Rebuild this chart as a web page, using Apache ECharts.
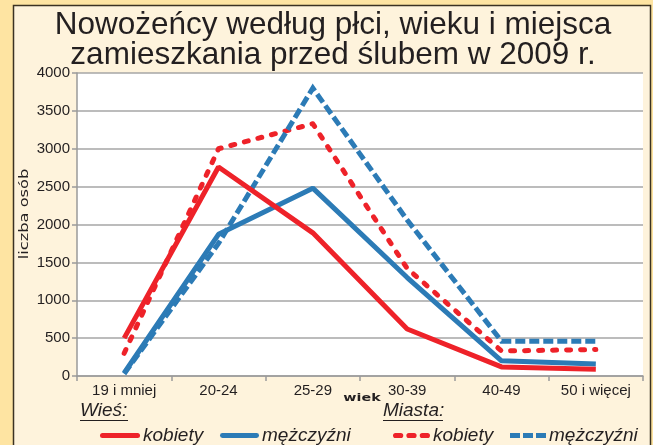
<!DOCTYPE html>
<html><head><meta charset="utf-8">
<script src="https://cdn.jsdelivr.net/npm/echarts@6/dist/echarts.min.js"></script>
<style>html,body{margin:0;padding:0;background:#FEE4A2;}#c{width:653px;height:445px;}</style>
</head><body><div id="c"></div>
<script>
var categories = ['19 i mniej', '20-24', '25-29', '30-39', '40-49', '50 i więcej'];
var wiesKobiety = [500, 2760, 1890, 620, 120, 90];
var wiesMezczyzni = [40, 1870, 2480, 1300, 200, 160];
var miastaKobiety = [300, 3000, 3330, 1420, 330, 350];
var miastaMezczyzni = [30, 1750, 3800, 2060, 460, 460];
var yTicks = [0, 500, 1000, 1500, 2000, 2500, 3000, 3500, 4000];
var titleLines = ['Nowożeńcy według płci, wieku i miejsca', 'zamieszkania przed ślubem w 2009 r.'];

var RED = '#EE2229', BLUE = '#2C7BB6', TXT = '#231F20';
var chart = echarts.init(document.getElementById('c'));

var ICON_SOLID = 'path://M2.5,0H37.5A2.5,2.5 0 0 1 37.5,5H2.5A2.5,2.5 0 0 1 2.5,0Z';
var ICON_DOTS = 'path://M3,0H8A2.5,2.5 0 0 1 8,5H3A2.5,2.5 0 0 1 3,0Z M16,0H21A2.5,2.5 0 0 1 21,5H16A2.5,2.5 0 0 1 16,0Z M29,0H34A2.5,2.5 0 0 1 34,5H29A2.5,2.5 0 0 1 29,0Z';
var ICON_DASH = 'path://M0,0H10V5H0Z M13,0H23V5H13Z M26,0H36V5H26Z';

var option = {
  backgroundColor: '#FEE4A2',
  animation: false,
  grid: {left: 77, right: 10, top: 73, bottom: 69, show: true, backgroundColor: '#FFFFFF', borderWidth: 0},
  xAxis: {
    type: 'category', data: categories, boundaryGap: true,
    axisLine: {lineStyle: {color: '#9A9A9A', width: 1.5}},
    axisTick: {show: true, length: 5, lineStyle: {color: '#9A9A9A', width: 1.5}},
    axisLabel: {fontFamily: 'Liberation Sans', fontSize: 15, color: TXT, margin: 7}
  },
  yAxis: {
    type: 'value', min: 0, max: 4000, interval: 500,
    axisLine: {show: true, lineStyle: {color: '#9A9A9A', width: 1.5}},
    axisTick: {show: true, length: 5, lineStyle: {color: '#9A9A9A', width: 1.5}},
    splitLine: {lineStyle: {color: '#A6A6A6', width: 1.5}},
    axisLabel: {fontFamily: 'Liberation Sans', fontSize: 15, color: TXT, margin: 7,
      formatter: function(v){ return yTicks.indexOf(v) >= 0 ? String(v) : ''; }}
  },
  legend: [],
  series: [
    {name: 'Miasta kobiety', type: 'line', data: miastaKobiety, symbol: 'none', z: 2,
      lineStyle: {color: RED, width: 5, type: [4, 10], cap: 'round', join: 'round'}, itemStyle: {color: RED}},
    {name: 'Miasta mężczyźni', type: 'line', data: miastaMezczyzni, symbol: 'none', z: 3,
      lineStyle: {color: BLUE, width: 5, type: [10, 4], cap: 'butt', join: 'miter'}, itemStyle: {color: BLUE}},
    {name: 'Wieś mężczyźni', type: 'line', data: wiesMezczyzni, symbol: 'none', z: 4,
      lineStyle: {color: BLUE, width: 5}, itemStyle: {color: BLUE}},
    {name: 'Wieś kobiety', type: 'line', data: wiesKobiety, symbol: 'none', z: 5,
      lineStyle: {color: RED, width: 5}, itemStyle: {color: RED}}
  ],
  graphic: [
    {type: 'rect', z: -10, silent: true, shape: {x: 13.5, y: 5.5, width: 637, height: 460},
      style: {fill: '#FEF3DC', stroke: '#3B3222', lineWidth: 1.5}},
    {type: 'text', z: 10, x: 333, y: 40, style: {text: titleLines.join('\n'), font: '31.5px "Liberation Sans"',
      fill: TXT, align: 'center', verticalAlign: 'middle', lineHeight: 30}},
    {type: 'text', z: 10, x: 25, y: 214, rotation: Math.PI / 2, scaleX: 1.25,
      style: {text: 'liczba osób', font: '13px "DejaVu Sans"', fill: TXT, align: 'center', verticalAlign: 'middle'}},
    {type: 'text', z: 10, x: 362, y: 398, scaleX: 1.3,
      style: {text: 'wiek', font: 'bold 11px "DejaVu Sans"', fill: TXT, align: 'center', verticalAlign: 'middle'}},
    {type: 'text', z: 10, x: 80, y: 411, style: {text: 'Wieś:', font: 'italic 19px "Liberation Sans"', fill: TXT, verticalAlign: 'middle'}},
    {type: 'line', z: 10, shape: {x1: 80, y1: 420.5, x2: 128, y2: 420.5}, style: {stroke: TXT, lineWidth: 1}},
    {type: 'text', z: 10, x: 383, y: 411, style: {text: 'Miasta:', font: 'italic 19px "Liberation Sans"', fill: TXT, verticalAlign: 'middle'}},
    {type: 'line', z: 10, shape: {x1: 383, y1: 420.5, x2: 443, y2: 420.5}, style: {stroke: TXT, lineWidth: 1}}
  ]
};
var legSpec = [
  {name: 'Wieś kobiety', label: 'kobiety', left: 95, icon: ICON_SOLID, color: RED, w: 40},
  {name: 'Wieś mężczyźni', label: 'mężczyźni', left: 215, icon: ICON_SOLID, color: BLUE, w: 39},
  {name: 'Miasta kobiety', label: 'kobiety', left: 388, icon: ICON_DOTS, color: RED, w: 37},
  {name: 'Miasta mężczyźni', label: 'mężczyźni', left: 505, icon: ICON_DASH, color: BLUE, w: 36}
];
legSpec.forEach(function(l){
  option.legend.push({
    left: l.left, top: 421, itemWidth: l.w, itemHeight: 6, selectedMode: false,
    data: [{name: l.name, icon: l.icon, itemStyle: {color: l.color, borderWidth: 0}}],
    formatter: (function(t){ return function(){ return t; }; })(l.label),
    textStyle: {fontFamily: 'Liberation Sans', fontSize: 19, fontStyle: 'italic', color: TXT, padding: [0,0,0,-2]}
  });
});
chart.setOption(option);
</script></body></html>
